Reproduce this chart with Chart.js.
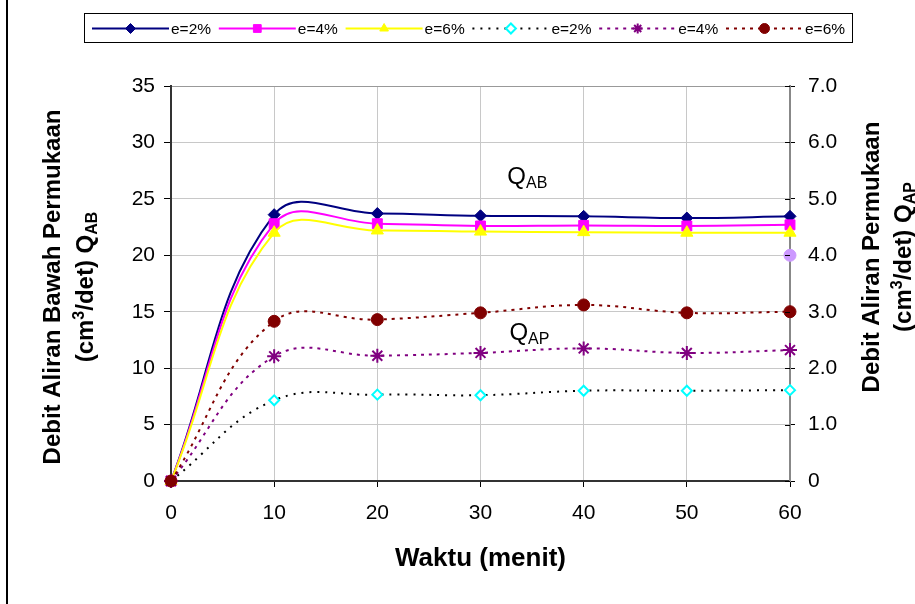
<!DOCTYPE html>
<html>
<head>
<meta charset="utf-8">
<script src="https://cdn.jsdelivr.net/npm/chart.js"></script>
<style>
  html, body { margin: 0; padding: 0; background: #fff; }
  #wrap { width: 915px; height: 604px; }
</style>
</head>
<body>
<div id="wrap"><canvas id="chart" width="915" height="604"></canvas></div>
<script>
// waktu (menit)
var waktu = [0, 10, 20, 30, 40, 50, 60];

// debit aliran bawah permukaan Q_AB (sumbu kiri)
var qab2 = [0, 23.6, 23.7, 23.5, 23.45, 23.3, 23.45];
var qab4 = [0, 22.8, 22.8, 22.6, 22.65, 22.6, 22.7];
var qab6 = [0, 22.0, 22.2, 22.1, 22.05, 22.0, 22.0];

// debit aliran permukaan Q_AP (sumbu kanan)
var qap2 = [0, 1.43, 1.53, 1.52, 1.6, 1.6, 1.61];
var qap4 = [0, 2.21, 2.22, 2.27, 2.35, 2.27, 2.32];
var qap6 = [0, 2.83, 2.86, 2.98, 3.12, 2.98, 3.0];
var extraPoint = [{x: 60, y: 4.0}];

var seriesLabels = ['e=2%', 'e=4%', 'e=6%', 'e=2%', 'e=4%', 'e=6%'];
var leftRange = [0, 35, 5];
var rightRange = [0, 7, 1];
var xRange = [0, 60, 10];

var FONT = '"Liberation Sans", Arial, sans-serif';
Chart.defaults.font.family = FONT;
Chart.defaults.color = '#000';

function pts(arr) {
  return waktu.map(function(x, i) { return {x: x, y: arr[i]}; });
}

function series(i, arr, axis, color, dash, style, radius, fill, edge, bw) {
  return {
    label: seriesLabels[i], data: pts(arr), yAxisID: axis,
    borderColor: color, borderWidth: 2, borderDash: dash,
    pointStyle: style, pointRadius: radius, pointHoverRadius: radius,
    pointBackgroundColor: fill, pointBorderColor: edge,
    pointBorderWidth: bw, tension: 0.4, clip: false, order: 10 - i
  };
}

var datasets = [
  series(0, qab2, 'y', '#000080', [], 'rectRot', 6, '#000080', '#000080', 1),
  series(1, qab4, 'y', '#ff00ff', [], 'rect', 7, '#ff00ff', '#ff00ff', 1),
  series(2, qab6, 'y', '#ffff00', [], 'triangle', 7, '#ffff00', '#ffff00', 1),
  series(3, qap2, 'y1', '#000000', [2, 6], 'rectRot', 5, '#fff', '#00ffff', 2),
  series(4, qap4, 'y1', '#800080', [3, 5], 'star', 7, '#800080', '#800080', 2),
  series(5, qap6, 'y1', '#800000', [3, 5], 'circle', 6, '#800000', '#800000', 1),
  {label: '', data: extraPoint, yAxisID: 'y1', showLine: false, pointStyle: 'circle',
   pointRadius: 6, pointBackgroundColor: '#cc99ff', pointBorderColor: '#cc99ff', clip: false, order: 0}
];

function drawRich(ctx, parts, size, x, y) {
  // parts: [text, kind, bold]; x is centre, y baseline
  var total = 0;
  parts.forEach(function(p) {
    ctx.font = (p[2] ? 'bold ' : '') + (p[1] ? Math.round(size * 0.66) : size) + 'px ' + FONT;
    p.w = ctx.measureText(p[0]).width; total += p.w;
  });
  var cx = x - total / 2;
  parts.forEach(function(p) {
    ctx.font = (p[2] ? 'bold ' : '') + (p[1] ? Math.round(size * 0.66) : size) + 'px ' + FONT;
    var dy = p[1] == 'sup' ? -size * 0.36 : (p[1] == 'sub' ? size * 0.17 : 0);
    ctx.fillText(p[0], cx, y + dy);
    cx += p.w;
  });
}

function marker(ctx, ds, x, y, r) {
  ctx.fillStyle = ds.pointBackgroundColor;
  ctx.strokeStyle = ds.pointBorderColor;
  ctx.lineWidth = ds.pointBorderWidth;
  if (Chart.helpers && Chart.helpers.drawPoint) {
    Chart.helpers.drawPoint(ctx, {pointStyle: ds.pointStyle, radius: r, rotation: 0, borderWidth: ds.pointBorderWidth}, x, y);
  }
}

var extras = {
  id: 'extras',
  afterDraw: function(chart) {
    var ctx = chart.ctx, area = chart.chartArea;
    var xs = chart.scales.x, ys = chart.scales.y, y1 = chart.scales.y1;
    ctx.save();

    // inner half of the cross ticks on the right axis
    ctx.strokeStyle = '#000'; ctx.lineWidth = 1;
    y1.ticks.forEach(function(t) {
      var py = Math.round(y1.getPixelForValue(t.value)) + 0.5;
      ctx.beginPath(); ctx.moveTo(area.right - 5, py); ctx.lineTo(area.right, py); ctx.stroke();
    });

    // axis titles with super/subscripts
    ctx.fillStyle = '#000'; ctx.textBaseline = 'alphabetic';
    ctx.save();
    ctx.translate(0, 287); ctx.rotate(-Math.PI / 2);
    drawRich(ctx, [['Debit Aliran Bawah Permukaan', '', 1]], 24, 0, 60);
    drawRich(ctx, [['(cm', '', 1], ['3', 'sup', 1], ['/det) Q', '', 1], ['AB', 'sub', 1]], 24, 0, 93);
    ctx.restore();
    ctx.save();
    ctx.translate(0, 257); ctx.rotate(-Math.PI / 2);
    drawRich(ctx, [['Debit Aliran Permukaan', '', 1]], 24, 0, 879);
    drawRich(ctx, [['(cm', '', 1], ['3', 'sup', 1], ['/det) Q', '', 1], ['AP', 'sub', 1]], 24, 0, 911);
    ctx.restore();

    // curve group labels
    ctx.textAlign = 'left';
    function qlabel(sub, xv, yv) {
      var px = xs.getPixelForValue(xv), py = ys.getPixelForValue(yv);
      ctx.font = '24px ' + FONT; ctx.fillText('Q', px, py);
      var w = ctx.measureText('Q').width;
      ctx.font = '16px ' + FONT; ctx.fillText(sub, px + w, py + 4);
    }
    qlabel('AB', 32.6, 26.3);
    qlabel('AP', 32.8, 12.5);

    // legend
    ctx.strokeStyle = '#000'; ctx.lineWidth = 1;
    ctx.strokeRect(84.5, 13.5, 768, 29);
    var lds = chart.data.datasets.slice(0, 6);
    lds.forEach(function(ds, i) {
      var sx = 92 + i * 126.8, ly = 28.5;
      ctx.save();
      ctx.strokeStyle = ds.borderColor; ctx.lineWidth = 2;
      ctx.setLineDash(ds.borderDash);
      ctx.beginPath(); ctx.moveTo(sx, ly); ctx.lineTo(sx + 77, ly); ctx.stroke();
      ctx.setLineDash([]);
      marker(ctx, ds, sx + 38.5, ly, ds.pointStyle == 'rect' ? 5.5 : 5);
      ctx.restore();
      ctx.fillStyle = '#000'; ctx.font = '15.5px ' + FONT; ctx.textAlign = 'left';
      ctx.fillText(ds.label, sx + 79, 34);
    });

    // outer frame line on the left
    ctx.fillStyle = '#000';
    ctx.fillRect(6, 0, 2, 604);
    ctx.restore();
  }
};

new Chart(document.getElementById('chart'), {
  type: 'line',
  data: { datasets: datasets },
  plugins: [extras],
  options: {
    responsive: false,
    animation: false,
    devicePixelRatio: 1,
    layout: { padding: { top: 86, left: 0, right: 0, bottom: 0 } },
    plugins: { legend: { display: false }, tooltip: { enabled: false } },
    scales: {
      x: {
        type: 'linear', min: xRange[0], max: xRange[1],
        ticks: { stepSize: xRange[2], font: { size: 21 }, padding: 14, color: '#000' },
        grid: { color: '#c8c8c8', tickColor: '#000', tickLength: 6 },
        border: { color: '#333', width: 2 },
        title: { display: true, text: 'Waktu (menit)', font: { size: 26, weight: 'bold' }, padding: { top: 0, bottom: 30 }, color: '#000' },
        afterFit: function(s) { s.height = 123; }
      },
      y: {
        position: 'left', min: leftRange[0], max: leftRange[1],
        ticks: { stepSize: leftRange[2], font: { size: 21 }, padding: 9, color: '#000' },
        grid: {
          color: function(c) { return c.tick && c.tick.value == leftRange[1] ? '#999' : '#c8c8c8'; },
          tickColor: '#000', tickLength: 7
        },
        border: { color: '#333', width: 2 },
        afterFit: function(s) { s.width = 171; }
      },
      y1: {
        position: 'right', min: rightRange[0], max: rightRange[1],
        ticks: {
          stepSize: rightRange[2], font: { size: 21 }, padding: 13, color: '#000',
          callback: function(v) { return v === 0 ? '0' : v.toFixed(1); }
        },
        grid: { drawOnChartArea: false, tickColor: '#000', tickLength: 5 },
        border: { color: '#888', width: 2 },
        afterFit: function(s) { s.width = 125; }
      }
    }
  }
});
</script>
</body>
</html>
